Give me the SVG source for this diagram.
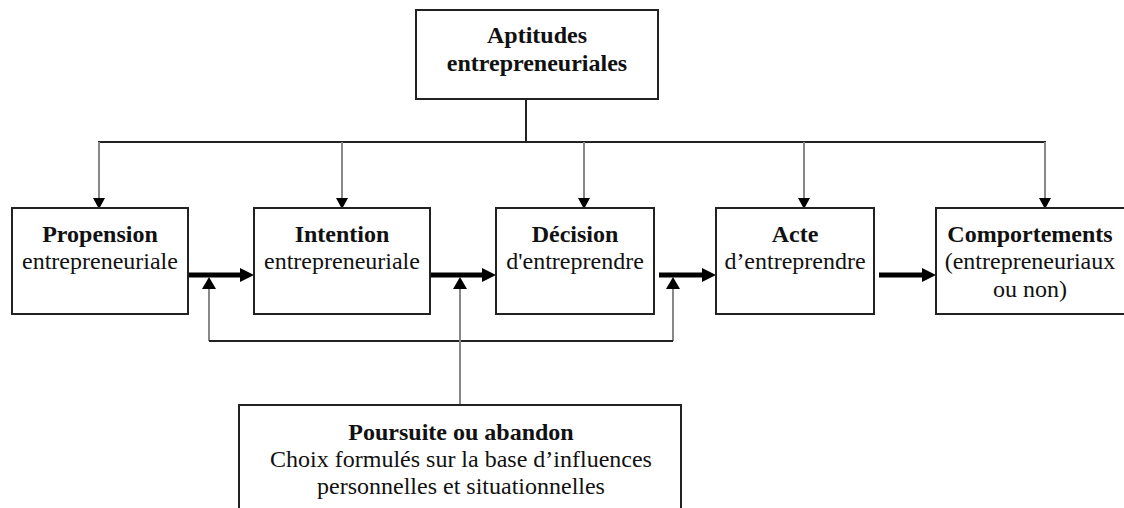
<svg xmlns="http://www.w3.org/2000/svg" width="1124" height="508" viewBox="0 0 1124 508">
<style>
.box{fill:#fff;stroke:#222;stroke-width:2}
.t{font-size:24px;fill:#111;text-anchor:middle}
.b{font-weight:bold}
.dk{stroke:#222;stroke-width:2;fill:none}
.gr{stroke:#888;stroke-width:2;fill:none}
.thick{stroke:#000;stroke-width:5;fill:none}
.head{fill:#000}
</style>
<rect width="1124" height="508" fill="#fff"/>
<g id="connectors">
  <line class="dk" x1="526" y1="99" x2="526" y2="142"/>
  <line class="dk" x1="98" y1="142" x2="1046" y2="142"/>
  <line class="gr" x1="99" y1="142" x2="99" y2="198"/>
  <line class="gr" x1="342" y1="142" x2="342" y2="198"/>
  <line class="gr" x1="584" y1="142" x2="584" y2="198"/>
  <line class="gr" x1="804" y1="142" x2="804" y2="198"/>
  <line class="gr" x1="1045" y1="142" x2="1045" y2="198"/>
  <polygon class="head" points="93,198 105,198 99,209"/>
  <polygon class="head" points="336,198 348,198 342,209"/>
  <polygon class="head" points="578,198 590,198 584,209"/>
  <polygon class="head" points="798,198 810,198 804,209"/>
  <polygon class="head" points="1039,198 1051,198 1045,209"/>
  <line class="thick" x1="188" y1="275" x2="242" y2="275"/>
  <polygon class="head" points="240,268 254,275 240,282"/>
  <line class="thick" x1="430" y1="275" x2="484" y2="275"/>
  <polygon class="head" points="482,268 496,275 482,282"/>
  <line class="thick" x1="659" y1="275" x2="704" y2="275"/>
  <polygon class="head" points="702,268 716,275 702,282"/>
  <line class="thick" x1="879" y1="275" x2="924" y2="275"/>
  <polygon class="head" points="922,268 936,275 922,282"/>
  <line class="gr" x1="209" y1="288" x2="209" y2="341"/>
  <line class="gr" x1="673" y1="288" x2="673" y2="341"/>
  <line class="dk" x1="209" y1="341" x2="673" y2="341"/>
  <line class="gr" x1="460" y1="288" x2="460" y2="405"/>
  <polygon class="head" points="202,289 216,289 209,277"/>
  <polygon class="head" points="453,289 467,289 460,277"/>
  <polygon class="head" points="666,289 680,289 673,277"/>
</g>
<g font-family="Liberation Serif, Times New Roman, DejaVu Serif, serif">
<g id="aptitudes">
  <rect class="box" x="416" y="10" width="242" height="89"/>
  <text class="t b" x="537" y="43">Aptitudes</text>
  <text class="t b" x="537" y="71">entrepreneuriales</text>
</g>
<g id="propension">
  <rect class="box" x="12" y="208" width="176" height="106"/>
  <text class="t b" x="100" y="242">Propension</text>
  <text class="t" x="100" y="269">entrepreneuriale</text>
</g>
<g id="intention">
  <rect class="box" x="254" y="208" width="176" height="106"/>
  <text class="t b" x="342" y="242">Intention</text>
  <text class="t" x="342" y="269">entrepreneuriale</text>
</g>
<g id="decision">
  <rect class="box" x="496" y="208" width="158" height="106"/>
  <text class="t b" x="575" y="242">Décision</text>
  <text class="t" x="575" y="269">d'entreprendre</text>
</g>
<g id="acte">
  <rect class="box" x="716" y="208" width="158" height="106"/>
  <text class="t b" x="795" y="242">Acte</text>
  <text class="t" x="795" y="269">d’entreprendre</text>
</g>
<g id="comportements">
  <rect class="box" x="936" y="208" width="200" height="106"/>
  <text class="t b" x="1030" y="242">Comportements</text>
  <text class="t" x="1030" y="269">(entrepreneuriaux</text>
  <text class="t" x="1030" y="297">ou non)</text>
</g>
<g id="poursuite">
  <rect class="box" x="239" y="405" width="442" height="120"/>
  <text class="t b" x="461" y="440">Poursuite ou abandon</text>
  <text class="t" x="461" y="467">Choix formulés sur la base d’influences</text>
  <text class="t" x="461" y="494">personnelles et situationnelles</text>
</g>
</g>
</svg>
